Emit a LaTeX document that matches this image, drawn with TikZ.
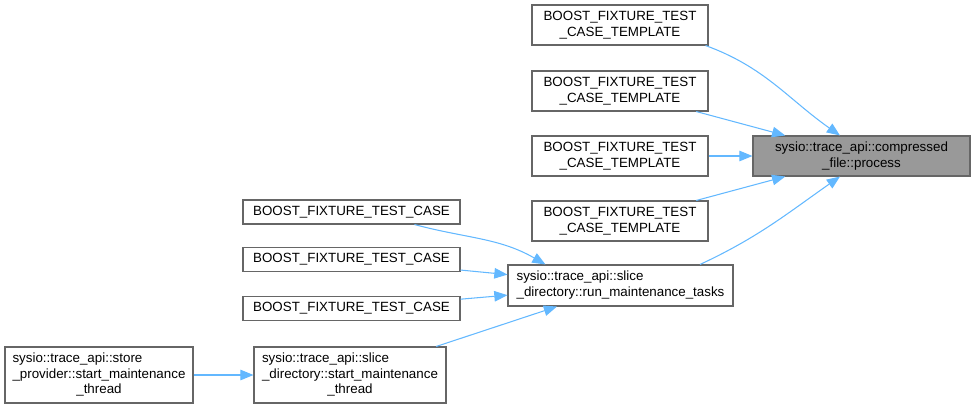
\documentclass[tikz,border=0pt]{standalone}
\usepackage{fontspec}
\setmainfont{Liberation Sans}
\usetikzlibrary{arrows.meta}
\definecolor{edgeblue}{HTML}{63B8FF}
\definecolor{boxgray}{HTML}{666666}
\definecolor{hlgray}{HTML}{999999}

\begin{document}
\begin{tikzpicture}[x=0.02cm,y=-0.02cm,
    fn/.style={draw=boxgray,line width=0.6pt,inner sep=1pt,align=center,
      font=\fontsize{7.6}{9}\selectfont},
    fnhl/.style={fn,fill=hlgray},
    tmpl/.style={fn,minimum width=3.52cm,minimum height=0.8cm},
    tcase/.style={fn,minimum width=4.34cm,minimum height=0.48cm},
    call/.style={draw=edgeblue,line width=0.6pt,-{Triangle[length=7.5pt,width=6pt]}}]
    \useasboundingbox (0,0) rectangle (978,410);

    % callee
    \node[fnhl,minimum width=4.34cm,minimum height=0.8cm] (proc) at (861.5,156)
      {sysio::trace\_api::compressed\\\_file::process};

    % template test cases
    \node[tmpl] (t1) at (620,25)  {BOOST\_FIXTURE\_TEST\\\_CASE\_TEMPLATE};
    \node[tmpl] (t2) at (620,91)  {BOOST\_FIXTURE\_TEST\\\_CASE\_TEMPLATE};
    \node[tmpl] (t3) at (620,156) {BOOST\_FIXTURE\_TEST\\\_CASE\_TEMPLATE};
    \node[tmpl] (t4) at (620,221) {BOOST\_FIXTURE\_TEST\\\_CASE\_TEMPLATE};

    % maintenance chain
    \node[fn,minimum width=4.5cm,minimum height=0.82cm] (run) at (620.5,285.5)
      {\begin{tabular}{@{}l@{}}sysio::trace\_api::slice\\\_directory::run\_maintenance\_tasks\end{tabular}};
    \node[tcase] (c1) at (351.5,212)   {BOOST\_FIXTURE\_TEST\_CASE};
    \node[tcase] (c2) at (351.5,259.5) {BOOST\_FIXTURE\_TEST\_CASE};
    \node[tcase] (c3) at (351.5,308.5) {BOOST\_FIXTURE\_TEST\_CASE};
    \node[fn,minimum width=3.84cm,minimum height=1.12cm] (slice) at (350,375)
      {\begin{tabular}{@{}l@{}}sysio::trace\_api::slice\\\_directory::start\_maintenance\\\multicolumn{1}{@{}c@{}}{\_thread}\end{tabular}};
    \node[fn,minimum width=3.76cm,minimum height=1.12cm] (store) at (99,375)
      {\begin{tabular}{@{}l@{}}sysio::trace\_api::store\\\_provider::start\_maintenance\\\multicolumn{1}{@{}c@{}}{\_thread}\end{tabular}};

    % calls
    \draw[call] ([xshift=-0.06cm]t1.south east) to[out=-20,in=145] ([xshift=-0.43cm]proc.north);
    \draw[call] (t2) -- (proc);
    \draw[call] (t3) -- (proc);
    \draw[call] (t4) -- (proc);
    \draw[call] ([xshift=1.59cm]run.north) to[out=25,in=-145] ([xshift=-0.43cm]proc.south);
    \draw[call] ([xshift=1.26cm]c1.south) to[out=-15,in=150] ([xshift=-1.5cm]run.north);
    \draw[call] (c2) -- (run);
    \draw[call] (c3) -- (run);
    \draw[call] (slice) -- (run);
    \draw[call] (store) -- (slice);
\end{tikzpicture}
\end{document}
